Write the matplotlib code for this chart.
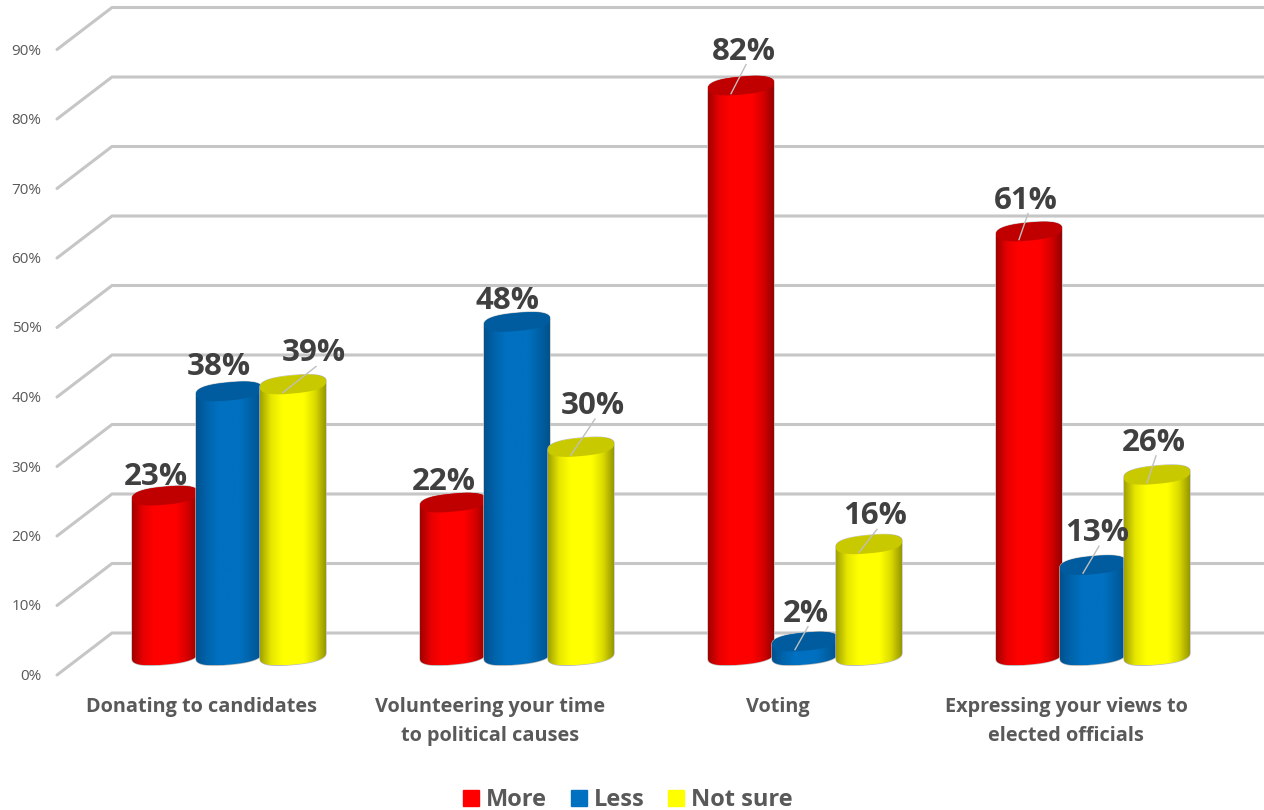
import numpy as np
import matplotlib
matplotlib.use('Agg')
import matplotlib.pyplot as plt
from matplotlib.colors import LinearSegmentedColormap
from matplotlib.patches import Patch, PathPatch
from matplotlib.path import Path

# Survey values, one list per series
categories = ['Donating to candidates',
              'Volunteering your time\nto political causes',
              'Voting',
              'Expressing your views to\nelected officials']
more = [23, 22, 82, 61]
less = [38, 48, 2, 13]
not_sure = [39, 30, 16, 26]
y_ticks = [0, 10, 20, 30, 40, 50, 60, 70, 80, 90]

series_names = ['More', 'Less', 'Not sure']
series_values = [more, less, not_sure]
body_colors = [['#a00000', '#e80000', '#ff0000', '#ff0000', '#ff0000', '#d80000', '#960000'],
               ['#00528c', '#0064ac', '#0070c0', '#0070c0', '#0070c0', '#0062a8', '#00518a'],
               ['#a2a200', '#e6e600', '#ffff00', '#ffff00', '#ffff00', '#dcdc00', '#979700']]
cap_colors = ['#c00000', '#005c9e', '#c9c900']
legend_colors = ['#ff0000', '#0070c0', '#ffff00']

# Data label offsets from the top of each bar, in pixels (same shape as the series)
label_dx = [[-9, -10, 21], [-9, -10, 12], [3, 1, 6], [-3, 4, -3]]
label_dy = [[20, 25, 32], [22, 22, 42], [35, 29, 29], [32, 33, 33]]
leader_on = [[False, False, True], [False, False, True], [True, True, True], [True, True, True]]

W, H = 1264, 810
GROUP_X0, GROUP_STEP = 229, 288      # pixel centre of first group, pixels per category
ZERO_Y, PCT_PX = 675, 6.95           # pixel row of 0% on the front edge, pixels per percent
BASE = 2.8                           # lift of the bar bases above the front edge, in percent

fig = plt.figure(figsize=(W / 100, H / 100), dpi=100)
ax = fig.add_axes([0, 0, 1, 1])
xlim = (-GROUP_X0 / GROUP_STEP, (W - GROUP_X0) / GROUP_STEP)
ylim = ((ZERO_Y - H) / PCT_PX, ZERO_Y / PCT_PX)
ax.axis('off')

px = 1 / GROUP_STEP   # one pixel in x data units
py = 1 / PCT_PX       # one pixel in y data units

# Floor and wall gridlines
depth = 42 * py
for t in y_ticks:
    ax.plot([57 * px + xlim[0], 112 * px + xlim[0], xlim[1]], [t, t + depth, t + depth],
            color='#c6c6c6', lw=2.2, solid_capstyle='round', solid_joinstyle='miter', zorder=1)
    ax.text(41.5 * px + xlim[0], t - 1.5 * py, f'{t}%', ha='right', va='center', fontsize=11,
            color='#595959', family='Open Sans')


def ellipse_xy(cx, cy, n=120):
    # Rounded, slightly tilted cap of a cylinder, the right side sits higher
    t = np.linspace(0, 2 * np.pi, n)
    a, b = 33.0, 9.0
    c, s = np.cos(t), np.sin(t)
    x = a * np.sign(c) * np.abs(c) ** 0.8
    y = b * np.sign(s) * np.abs(s) ** 0.8 + 0.09 * x
    return cx + x * px, cy + y * py


def draw_cylinder(cx, value, series):
    top = value + BASE
    ex, ey = ellipse_xy(cx, BASE)
    tx, ty = ellipse_xy(cx, top)

    # Body outline: lower half of the base, then upper half of the top
    lower = np.sin(np.linspace(0, 2 * np.pi, 120)) <= 0
    bx, by = ex[lower], ey[lower]
    order = np.argsort(bx)
    bx, by = bx[order], by[order]
    upper = ~lower
    ux, uy = tx[upper], ty[upper]
    order = np.argsort(ux)[::-1]
    ux, uy = ux[order], uy[order]
    verts = np.column_stack([np.r_[bx, ux, bx[0]], np.r_[by, uy, by[0]]])
    codes = [Path.MOVETO] + [Path.LINETO] * (len(verts) - 2) + [Path.CLOSEPOLY]
    body = PathPatch(Path(verts, codes), facecolor='none', edgecolor='#bdbdbd', lw=1.0,
                     zorder=3 + series)
    ax.add_patch(body)

    cmap = LinearSegmentedColormap.from_list('body', body_colors[series])
    shade = ax.imshow(np.linspace(0, 1, 128).reshape(1, -1), cmap=cmap, aspect='auto',
                      extent=(bx.min(), bx.max(), by.min(), uy.max()), zorder=3 + series)
    shade.set_clip_path(PathPatch(Path(verts, codes), transform=ax.transData))

    ax.fill(tx, ty, color=cap_colors[series], lw=0, zorder=3 + series)


for i, name in enumerate(categories):
    for s, vals in enumerate(series_values):
        cx = i + (s - 1) * 64 * px
        draw_cylinder(cx, vals[i], s)

# Data labels, with grey leaders where a label sits away from its bar
for i in range(len(categories)):
    for s, vals in enumerate(series_values):
        cx = i + (s - 1) * 64 * px
        top = vals[i] + BASE
        lx = cx + label_dx[i][s] * px
        ly = top + (label_dy[i][s] - 1) * py
        ax.text(lx, ly, f'{vals[i]}%', ha='center', va='center', fontsize=22.5, weight='bold',
                color='#404040', family='Open Sans', zorder=10)
        if leader_on[i][s]:
            ax.plot([cx - 10 * px, lx + 2 * px], [top - 8 * py, top + (label_dy[i][s] - 14) * py],
                    color='#bfbfbf', lw=1, zorder=9)

for i, name in enumerate(categories):
    ax.text(i - 27 * px, -3.1, name, ha='center', va='top', fontsize=14.3, weight='bold',
            color='#595959', family='Open Sans', linespacing=1.62)

handles = [Patch(color=c, label=n) for c, n in zip(legend_colors, series_names)]
ax.legend(handles=handles, loc='center', bbox_to_anchor=(628 / W, 1 - 800 / H), ncol=3, frameon=False,
          handlelength=0.68, handleheight=0.68, handletextpad=0.3, columnspacing=1.0,
          prop={'family': 'Open Sans', 'weight': 'bold', 'size': 17}, labelcolor='#595959',
          borderpad=0, borderaxespad=0)

ax.set_xlim(xlim)
ax.set_ylim(ylim)
fig.savefig('out.png', dpi=100)
